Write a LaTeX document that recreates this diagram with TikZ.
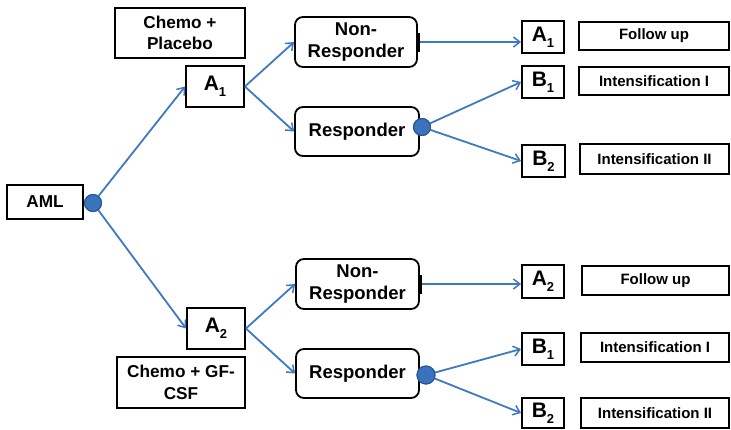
\documentclass[tikz,border=0pt]{standalone}
\usepackage{fontspec}
\setmainfont{Liberation Sans}
\usetikzlibrary{arrows.meta}
\definecolor{lineblue}{RGB}{62,122,194}
\definecolor{dotfill}{RGB}{58,114,190}
\definecolor{dotdraw}{RGB}{38,84,146}
\newcommand{\subA}[2]{#1\raisebox{-0.3em}{\fontsize{13}{13}\selectfont #2}}
\begin{document}
\begin{tikzpicture}[x=1pt,y=-1pt,
  box/.style={draw=black,line width=1.8pt,fill=white,inner sep=0pt,align=center,font=\bfseries},
  sqbox/.style={box,font=\fontsize{17.2}{21.5}\selectfont\bfseries},
  letterbox/.style={box,font=\fontsize{21}{21}\selectfont\bfseries},
  labbox/.style={box,font=\fontsize{15}{17}\selectfont\bfseries},
  rbox/.style={box,rounded corners=8pt,font=\fontsize{18.5}{21.8}\selectfont\bfseries},
  dot/.style={circle,draw=dotdraw,fill=dotfill,line width=1pt,inner sep=0pt},
  conn/.style={draw=lineblue,line width=1.8pt,-{Straight Barb[length=6.5pt,width=10pt,line width=1.5pt]}}]
\useasboundingbox (0,0) rectangle (731,429);
% left
\node[sqbox,minimum width=76pt,minimum height=34pt] (aml) at (45,202) {AML};
\node[dot,minimum size=17pt] (ca) at (93,203) {};
\node[sqbox,minimum width=130pt,minimum height=50pt] (chp) at (180,33) {Chemo +\\Placebo};
\node[letterbox,minimum width=58pt,minimum height=41pt] (a1) at (215,86.5) {\subA{A}{1}};
\node[letterbox,minimum width=58pt,minimum height=41pt] (a2) at (216,328.5) {\subA{A}{2}};
\node[sqbox,minimum width=128pt,minimum height=51pt] (chg) at (181,382.5) {Chemo + GF-\\CSF};
% middle
\node[rbox,minimum width=122pt,minimum height=50pt] (nr1) at (356,42) {Non-\\Responder};
\node[rbox,minimum width=124pt,minimum height=49pt] (r1) at (357,131.5) {Responder};
\node[rbox,minimum width=123pt,minimum height=50pt] (nr2) at (357.5,284) {Non-\\Responder};
\node[rbox,minimum width=123pt,minimum height=49pt] (r2) at (357.5,373.5) {Responder};
\node[dot,minimum size=17pt] (c1) at (422,127) {};
\node[dot,minimum size=18pt] (c2) at (426,375) {};
% right letters
\node[letterbox,minimum width=42pt,minimum height=32pt] (ra1) at (543,37) {\subA{A}{1}};
\node[letterbox,minimum width=42pt,minimum height=32pt] (rb1) at (543,82) {\subA{B}{1}};
\node[letterbox,minimum width=43pt,minimum height=32pt] (rb2) at (543.5,161) {\subA{B}{2}};
\node[letterbox,minimum width=42pt,minimum height=33pt] (ra2) at (543,281.5) {\subA{A}{2}};
\node[letterbox,minimum width=42pt,minimum height=32pt] (sb1) at (543,349) {\subA{B}{1}};
\node[letterbox,minimum width=42pt,minimum height=30pt] (sb2) at (543,413) {\subA{B}{2}};
% right labels
\node[labbox,minimum width=150pt,minimum height=28pt] (fu1) at (654,36) {Follow up};
\node[labbox,minimum width=150pt,minimum height=28pt] (i1) at (654,81) {Intensification I};
\node[labbox,minimum width=149pt,minimum height=30pt] (ii1) at (654.5,159) {Intensification II};
\node[labbox,minimum width=147pt,minimum height=29pt] (fu2) at (655.5,280.5) {Follow up};
\node[labbox,minimum width=148pt,minimum height=29pt] (i2) at (655,347.5) {Intensification I};
\node[labbox,minimum width=148pt,minimum height=30pt] (ii2) at (655,413) {Intensification II};
% connectors
\draw[conn] (ca) -- (a1.west);
\draw[conn] (ca) -- (a2.west);
\draw[conn] (a1.east) -- (nr1.west);
\draw[conn] (a1.east) -- (r1.west);
\draw[conn] (a2.east) -- (nr2.west);
\draw[conn] (a2.east) -- (r2.west);
\draw[conn] (nr1.east) -- (nr1.east -| ra1.west);
\draw[conn] (nr2.east) -- (nr2.east -| ra2.west);
\draw[conn] (c1) -- (rb1.west);
\draw[conn] (c1) -- (rb2.west);
\draw[conn] (c2) -- (sb1.west);
\draw[conn] (c2) -- (sb2.west);
\draw[line width=3.5pt] ([yshift=-10pt]nr1.east) -- ([yshift=9pt]nr1.east);
\draw[line width=3.5pt] ([yshift=-10pt]nr2.east) -- ([yshift=9pt]nr2.east);
\node[dot,minimum size=17pt] at (ca) {};
\node[dot,minimum size=17pt] at (c1) {};
\node[dot,minimum size=18pt] at (c2) {};
\end{tikzpicture}
\end{document}
